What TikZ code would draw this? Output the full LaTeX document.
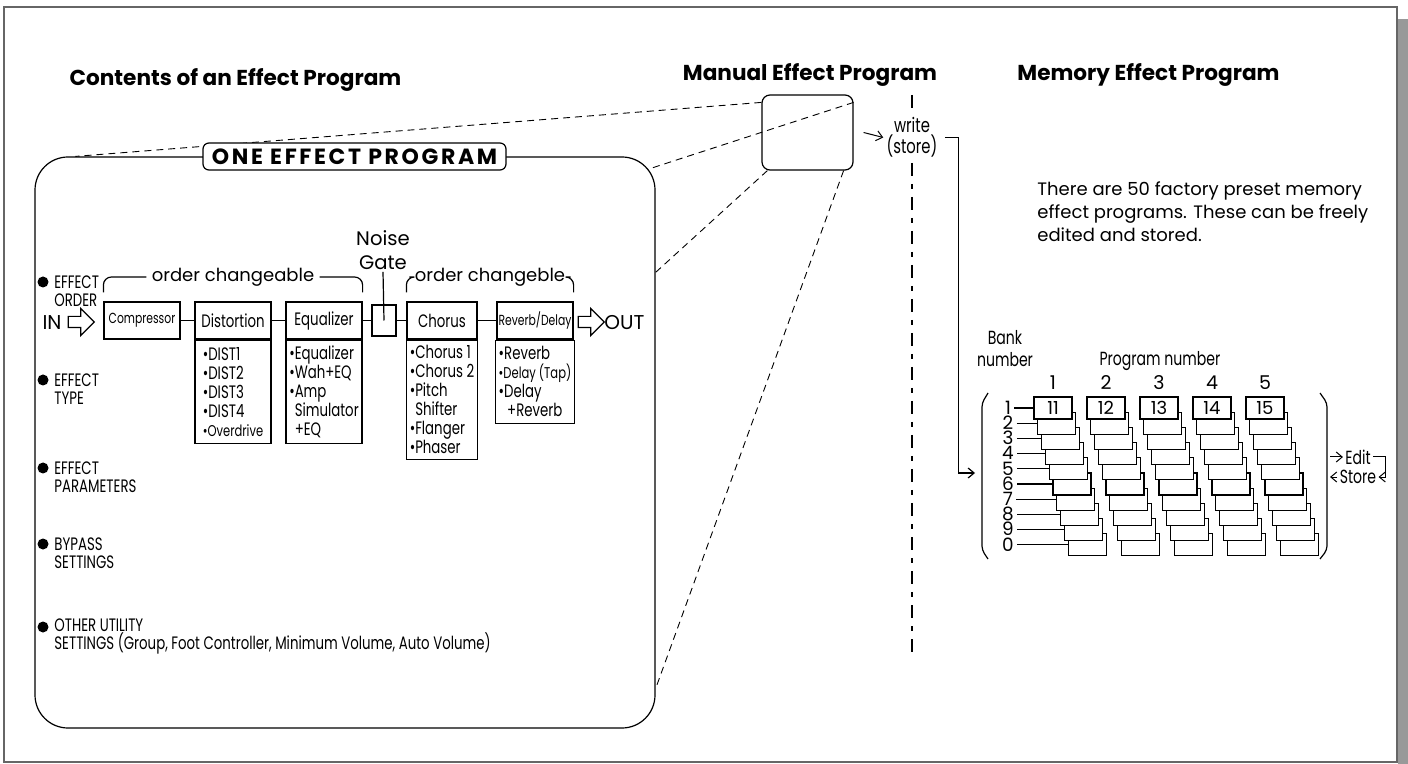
\documentclass[tikz,border=0pt]{standalone}
\usepackage{fontspec}
\setmainfont{Poppins}
\newfontfamily\condfont[FakeStretch=0.74]{Poppins}
\newfontfamily\headfont[LetterSpace=12]{Poppins}
\usepackage{tikz}
\usetikzlibrary{positioning,calc,arrows.meta,shapes.arrows}

\definecolor{framegray}{HTML}{666666}
\definecolor{shadowgray}{HTML}{999999}

\tikzset{
  title/.style={font=\bfseries\fontsize{10.8}{13}\selectfont},
  fx/.style={draw, line width=0.6pt, minimum width=38pt, minimum height=18.5pt, inner sep=0pt, font=\condfont\fontsize{9}{10}\selectfont},
  fxlist/.style={draw, line width=0.6pt, minimum width=38pt, inner xsep=1.5pt, inner ysep=2pt, align=left, font=\condfont\fontsize{9}{9.5}\selectfont},
  lbl/.style={anchor=west, align=left, inner sep=2pt, font=\condfont\fontsize{9}{9}\selectfont},
  dot/.style={circle, fill, inner sep=0pt, minimum size=5.5pt},
  hollow/.style={single arrow, draw, line width=0.6pt, inner xsep=0pt, inner ysep=2.5pt, minimum width=0pt, minimum height=13pt, single arrow head extend=4pt},
  slot/.style={draw, fill=white, line width=0.6pt, minimum width=19pt, minimum height=11pt, inner sep=0pt, font=\fontsize{9}{10}\selectfont},
  rownum/.style={inner sep=0pt, text height=6.3pt, text depth=0pt, font=\fontsize{9.2}{10}\selectfont},
  small/.style={inner sep=1pt, font=\condfont\fontsize{9.5}{10}\selectfont},
  guide/.style={line width=0.45pt, dash pattern=on 3.5pt off 2.5pt},
  divider/.style={line width=0.6pt, dash pattern=on 6.5pt off 4pt on 2.5pt off 4pt},
  barb/.style={-{Straight Barb[length=3pt,width=5pt]}, line width=0.5pt}
}

\begin{document}
\begin{tikzpicture}[x=0.5pt, y=-0.5pt]
  \useasboundingbox (0,0) rectangle (1408,764);

  % Frame
  \fill[shadowgray] (1398,19) rectangle (1408,764);
  \draw[framegray, line width=1pt] (4,7) rectangle (1397,762);

  % Titles
  \node[title] (tcont) at (235.5,80) {Contents of an Effect Program};
  \node[title] (tman) at (810,75) {Manual Effect Program};
  \node[title] (tmem) at (1148.5,75) {Memory Effect Program};

  % One effect program box
  \node[draw, line width=0.6pt, rounded corners=16.5pt, minimum width=310pt, minimum height=285.5pt] (prog) at (345,442.5) {};
  \node[draw, line width=0.6pt, rounded corners=4pt, minimum width=45.5pt, minimum height=37.5pt] (man) at (807.5,132.5) {};

  \draw[guide] ([yshift=-4pt]man.north west) -- ([xshift=20.5pt]prog.north west);
  \draw[guide] ([yshift=-4pt]man.north east) -- ([xshift=-4pt,yshift=-6.5pt]prog.north east);
  \draw[guide] ([xshift=3pt]man.south west) -- ([yshift=-58pt]prog.north east);
  \draw[guide] ([xshift=-5pt]man.south east) -- ([yshift=20pt]prog.south east);

  \node[draw, fill=white, line width=0.6pt, rounded corners=3pt, minimum width=151.5pt, minimum height=13.5pt, inner sep=0pt,
        font=\headfont\bfseries\fontsize{11}{12}\selectfont] (head) at (354.5,156.5) {ONE EFFECT PROGRAM};

  % Effect chain
  \node[fx, font=\condfont\fontsize{7.3}{9}\selectfont] (comp) at (142,320.5) {Compressor};
  \node[fx] (dist) at (233,320.5) {Distortion};
  \node[fx] (eq) at (324,320.5) {Equalizer};
  \node[draw, line width=0.6pt, minimum width=12pt, minimum height=15.5pt, inner sep=0pt] (ng) at (384,320.5) {};
  \node[fx, minimum width=35pt] (chor) at (442,320.5) {Chorus};
  \node[fx, font=\condfont\fontsize{7.3}{9}\selectfont] (rev) at (535,320.5) {Reverb/Delay};

  \node[fxlist, below=0pt of dist, minimum height=51.5pt] (distl)
    {•DIST1\\•DIST2\\•DIST3\\•DIST4\\{\fontsize{7.8}{9.5}\selectfont•Overdrive}};
  \node[fxlist, below=0pt of eq, minimum height=51.5pt] (eql)
    {•Equalizer\\•Wah+EQ\\•Amp\\\phantom{•}Simulator\\\phantom{•}+EQ};
  \node[fxlist, below=0pt of chor, minimum width=35pt, minimum height=59.5pt] (chorl)
    {•Chorus 1\\•Chorus 2\\•Pitch\\\phantom{•}Shifter\\•Flanger\\•Phaser};
  \node[fxlist, below=0pt of rev, minimum height=41.5pt] (revl)
    {•Reverb\\{\fontsize{7.8}{9.5}\selectfont•Delay (Tap)}\\•Delay\\\phantom{•\,}+Reverb};

  \draw[line width=0.6pt] (comp) -- (dist);
  \draw[line width=0.6pt] (dist) -- (eq);
  \draw[line width=0.6pt] (eq) -- (ng);
  \draw[line width=0.6pt] (ng) -- (chor);
  \draw[line width=0.6pt] (chor) -- (rev);

  \node[font=\fontsize{9.8}{12}\selectfont, align=center, inner sep=1pt] (ngl) at (383,250) {Noise\\Gate};
  \draw[line width=0.6pt] (ngl.south) -- (ng.center);

  \node[font=\fontsize{9}{11}\selectfont, inner sep=2.5pt] (oc1) at (233,277) {order changeable};
  \node[font=\fontsize{9}{11}\selectfont, inner sep=2.5pt] (oc2) at (490,277) {order changeble};
  \draw[line width=0.6pt, rounded corners=4pt] (oc1.west) -| ([yshift=4.5pt]comp.north west);
  \draw[line width=0.6pt, rounded corners=4pt] (oc1.east) -| ([yshift=4.5pt]eq.north east);
  \draw[line width=0.6pt, rounded corners=4pt] (oc2.west) -| ([yshift=4.5pt]chor.north west);
  \draw[line width=0.6pt, rounded corners=4pt] (oc2.east) -| ([yshift=4.5pt]rev.north east);

  \node[font=\fontsize{10}{12}\selectfont, inner sep=1pt] (in) at (52,323) {IN};
  \node[hollow] (inarr) at (78.5,322) {};
  \node[hollow] (outarr) at (588.5,322) {};
  \node[font=\fontsize{10}{12}\selectfont, inner sep=1pt] (out) at (624.5,323) {OUT};

  % Settings list
  \node[dot] (d1) at (43,282) {};
  \node[lbl] (l1) at (50,291) {EFFECT\\ORDER};
  \node[dot] (d2) at (43,380) {};
  \node[lbl] (l2) at (50,389) {EFFECT\\TYPE};
  \node[dot] (d3) at (43,468) {};
  \node[lbl] (l3) at (50,477) {EFFECT\\PARAMETERS};
  \node[dot] (d4) at (43,544) {};
  \node[lbl] (l4) at (50,553) {BYPASS\\SETTINGS};
  \node[dot] (d5) at (43,627) {};
  \node[lbl] (l5) at (50,636) {OTHER UTILITY\\SETTINGS (Group, Foot Controller, Minimum Volume, Auto Volume)};

  % Manual -> memory
  \coordinate (vtop) at (912,95);
  \coordinate (vbot) at (912,655);
  \draw[divider] (vtop) -- (vbot);
  \node[fill=white, align=center, inner sep=1.5pt, font=\condfont\fontsize{10}{10.5}\selectfont] (wr) at (912,137.5) {write\\(store)};
  \draw[barb] ([xshift=5pt]man.east) -- (wr.west);
  \coordinate (gridin) at (975,473);
  \draw[line width=0.6pt, -{Straight Barb[length=3pt,width=5pt]}] ([xshift=2pt]wr.east) -- ++(14,0) |- (gridin);

  \node[anchor=west, align=left, inner sep=2pt, font=\fontsize{9}{11.5}\selectfont] (memtxt) at (1033,212)
    {There are 50 factory preset memory\\effect programs. These can be freely\\edited and stored.};

  % Bank / program grid
  \node[align=center, inner sep=1pt, font=\condfont\fontsize{9.5}{11}\selectfont] (bank) at (1005,349) {Bank\\number};
  \node[inner sep=1pt, font=\condfont\fontsize{9.5}{11}\selectfont] (prg) at (1160,361) {Program number};

  \foreach \c in {1,...,5}{
    \node[font=\fontsize{9.5}{10}\selectfont, inner sep=1pt] (col\c) at ({1053+53*(\c-1)},383) {\c};
    \foreach \r in {9,8,...,0}{
      \node[slot] (s\c-\r) at ({1053+53*(\c-1)+3.8*\r},{408+15.2*\r}) {\ifnum\r=0 1\c\fi};
    }
  }
  \foreach \r [evaluate=\r as \lab using {int(mod(\r+1,10))}] in {0,...,9}{
    \node[rownum] (b\r) at (1008,{408+15.2*\r}) {\lab};
    \draw[line width=0.6pt] ([xshift=1.5pt]b\r.east) -- (s1-\r.west);
  }

  \draw[line width=0.6pt, rounded corners=2pt] (988,393) -- (982,403) -- (982,550) -- (988,559);
  \draw[line width=0.6pt, rounded corners=2pt] (1320,393) -- (1327,403) -- (1327,550) -- (1320,559);

  % Edit / Store
  \coordinate (brR) at (1330,467);
  \node[small] (edit) at (1358,457) {Edit};
  \node[small] (store) at (1358,477) {Store};
  \draw[barb] (brR |- edit) -- (edit.west);
  \draw[barb] (edit.east) -- ++(12,0) |- (store.east);
  \draw[barb] (store.west) -- (brR |- store);
\end{tikzpicture}
\end{document}
